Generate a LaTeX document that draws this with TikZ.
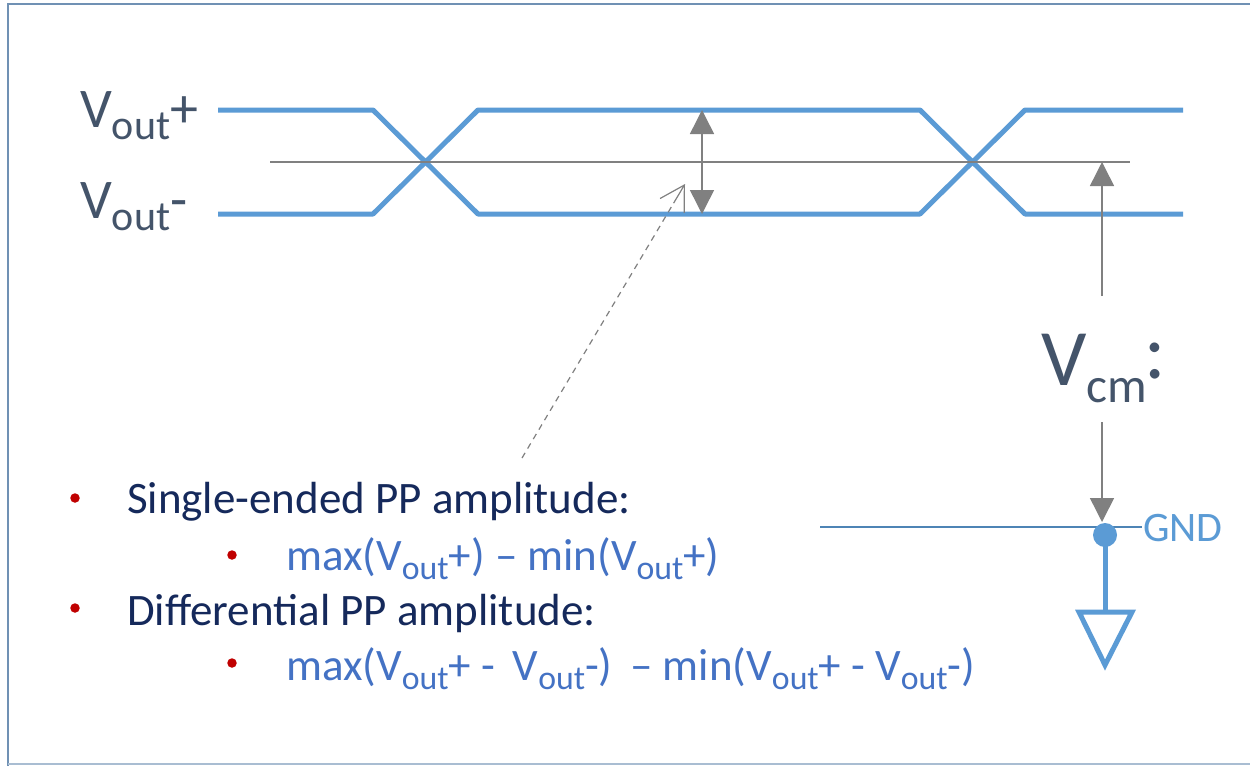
\documentclass[tikz,border=0pt]{standalone}
\usepackage{fontspec}
\setmainfont{Carlito}
\usetikzlibrary{arrows.meta,calc}

\definecolor{wave}{HTML}{5B9BD5}
\definecolor{guide}{HTML}{808080}
\definecolor{slate}{HTML}{44546A}
\definecolor{navy}{HTML}{15295B}
\definecolor{formula}{HTML}{4472C4}
\definecolor{bulletred}{HTML}{C00000}
\definecolor{framec}{HTML}{7091B4}

% lowered, reduced index text (V_out, V_cm)
\newcommand\lowidx[2][0.75]{\raisebox{-0.22em}{\scalebox{#1}{#2}}}

\begin{document}
\begin{tikzpicture}[x=1pt,y=-1pt,
  signal/.style={draw=wave, line width=5pt, line join=round},
  guideline/.style={draw=guide, line width=1.5pt},
  bigtip/.style={-{Triangle[length=24pt,width=24pt]}},
  lbl/.style={inner sep=0pt, text=slate, font=\fontsize{56}{60}\selectfont, anchor=base west},
  head/.style={inner sep=0pt, text=navy, font=\fontsize{45}{50}\selectfont, anchor=base west},
  frm/.style={inner sep=0pt, text=formula, font=\fontsize{45}{50}\selectfont, anchor=base west},
  dotb/.style={circle, fill=bulletred, inner sep=0pt, minimum size=9.5pt},
]
\useasboundingbox (0,0) rectangle (1250,766);
\fill[white] (0,0) rectangle (1250,766);

% outer frame
\draw[framec, line width=2.5pt] (8,766) -- (8,4) -- (1254,4);
\draw[framec!60, line width=2pt] (8,764) -- (1254,764);

% differential signal pair
\draw[signal] (218,110) -- (373,110) -- (478,214) -- (920,214) -- (1025,110) -- (1183,110);
\draw[signal] (218,214) -- (373,214) -- (478,110) -- (920,110) -- (1025,214) -- (1183,214);

% common-mode reference line
\coordinate (cmL) at (270,162);
\coordinate (cmR) at (1130,162);
\draw[guideline] (cmL) -- (cmR);

% labels
\node[lbl] (vp) at (80,127) {V\lowidx{out}+};
\node[lbl] (vn) at (80,218) {V\lowidx{out}-};

% single-ended swing
\coordinate (swT) at (702,110);
\coordinate (swB) at (702,214);
\draw[guideline, {Triangle[length=24pt,width=24pt]}-{Triangle[length=24pt,width=24pt]}] (swT) -- (swB);

% common-mode voltage
\node[inner sep=0pt, text=slate, font=\fontsize{80}{90}\selectfont, anchor=base west] (vcm) at (1041,385) {V\lowidx[0.62]{cm}\kern-3pt\raisebox{0.08em}{:}};
\coordinate (vcmA) at (1102,296);
\coordinate (vcmB) at (1102,422);
\coordinate (vcmT) at (1102,162);
\coordinate (gndT) at (1102,522);
\draw[guideline, bigtip] (vcmA) -- (vcmT);
\draw[guideline, bigtip] (vcmB) -- (gndT);

% ground
\coordinate (gndL) at (820,527);
\coordinate (gndR) at (1142,527);
\draw[wave!85!black, line width=1.3pt] (gndL) -- (gndR);
\node[circle, fill=wave, inner sep=0pt, minimum size=24pt] (gdot) at (1105,535) {};
\node[inner sep=0pt, text=wave, font=\fontsize{42}{46}\selectfont, anchor=west] (gnd) at (1143,528) {GND};
\coordinate (gstem) at (1105,612);
\draw[wave, line width=5pt] (gdot.center) -- (gstem);
\draw[wave, line width=5pt, line join=miter] (1079,612) -- (1132,612) -- (1105,665) -- cycle;

% bullet list
\node[dotb] (b1) at (75,498) {};
\node[head] (t1) at (127,513) {Single-ended PP amplitude:};
\node[dotb] (b2) at (232,555) {};
\node[frm] (t2) at (286,570) {max(V\lowidx{out}+) – min(V\lowidx{out}+)};
\node[dotb] (b3) at (75,608) {};
\node[head] (t3) at (127,625) {Differential PP amplitude:};
\node[dotb] (b4) at (232,663) {};
\node[frm] (t4) at (286,680) {max(V\lowidx{out}+ -\, V\lowidx{out}-) \,– min(V\lowidx{out}+ - V\lowidx{out}-)};

% pointer to the swing arrow
\coordinate (ptrS) at (522,458);
\coordinate (ptrE) at (685,184);
\coordinate (ptrM) at ($(ptrS)!0.93!(ptrE)$);
\draw[guide, line width=1.2pt, dash pattern=on 6pt off 5pt] (ptrS) -- (ptrM);
\draw[guide, line width=1.2pt, -{Straight Barb[length=24pt,width=28pt]}] (ptrM) -- (ptrE);
\end{tikzpicture}
\end{document}
